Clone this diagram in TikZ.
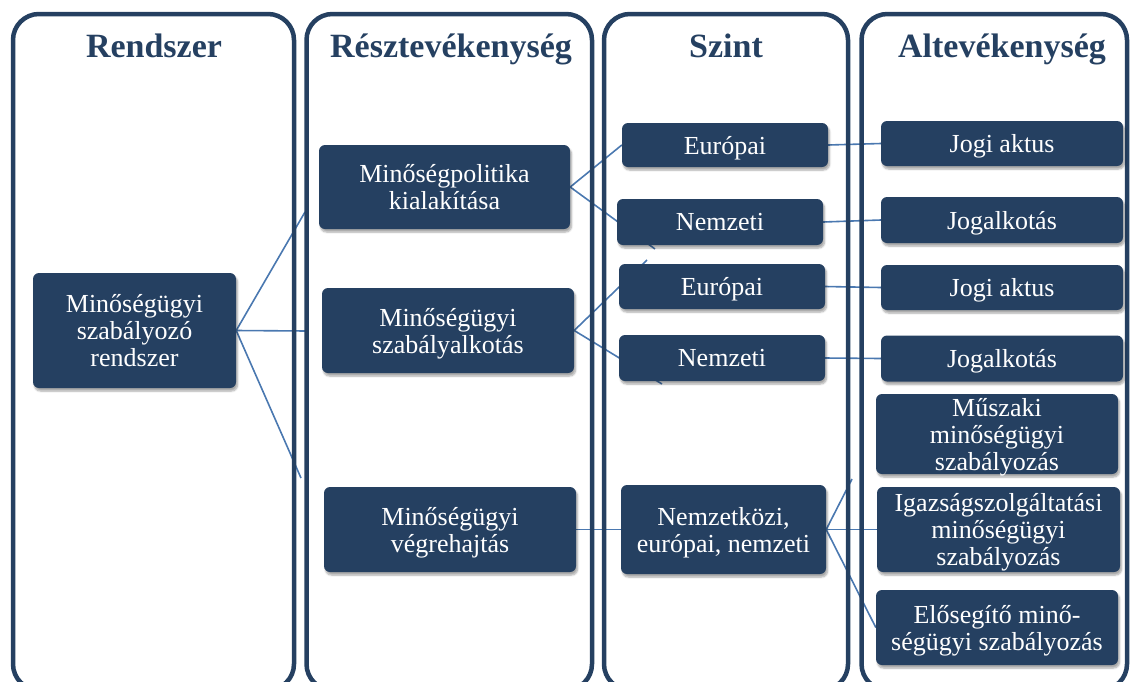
\documentclass[tikz,border=0pt]{standalone}
\usepackage{fontspec}
\setmainfont{Liberation Serif}
\usetikzlibrary{shadows,shadows.blur}
\definecolor{navy}{RGB}{37,64,97}
\definecolor{linkblue}{RGB}{74,120,176}
\pgfdeclarelayer{bg}
\pgfsetlayers{bg,main}
\begin{document}
\begin{tikzpicture}[x=1pt,y=-1pt,
  colframe/.style={draw=navy,line width=4.5pt,rounded corners=26pt},
  head/.style={text=navy,font=\fontsize{34}{36}\selectfont\bfseries,anchor=base},
  box/.style={fill=navy,text=white,rounded corners=6pt,inner sep=0pt,align=center,
    text depth=0pt,font=\fontsize{26}{27}\selectfont,
    blur shadow={shadow xshift=1.5pt,shadow yshift=-3pt,shadow blur steps=6,shadow opacity=35}},
  link/.style={draw=linkblue,line width=1.6pt}]
\useasboundingbox (0,0) rectangle (1131,681);

% column frames, running on past the lower edge
\begin{scope}
\clip (0,0) rectangle (1131,681);
\draw[colframe] (13,14) -- (13,690) -- (294,690) -- (294,14) -- cycle;
\draw[colframe] (306.5,14) -- (306.5,690) -- (592,690) -- (592,14) -- cycle;
\draw[colframe] (604,14) -- (604,690) -- (848,690) -- (848,14) -- cycle;
\draw[colframe] (861.5,14) -- (861.5,690) -- (1127,690) -- (1127,14) -- cycle;
\end{scope}

% column headings
\node[head] (h1) at (154,57) {Rendszer};
\node[head] (h2) at (451,57) {Résztevékenység};
\node[head] (h3) at (726,57) {Szint};
\node[head] (h4) at (1002,57) {Altevékenység};

% system
\node[box,minimum width=203pt,minimum height=115pt] (A) at (134.5,330.5) {Minőségügyi\\szabályozó\\rendszer};

% sub-activities
\node[box,minimum width=251pt,minimum height=84pt] (B1) at (444.5,187) {Minőségpolitika\\kialakítása};
\node[box,minimum width=252pt,minimum height=85pt] (B2) at (448,330.5) {Minőségügyi\\szabályalkotás};
\node[box,minimum width=252pt,minimum height=85pt] (B3) at (450,529.5) {Minőségügyi\\végrehajtás};

% levels
\node[box,minimum width=206pt,minimum height=44pt] (C1) at (725,145) {Európai};
\node[box,minimum width=206pt,minimum height=46pt] (C2) at (720,222) {Nemzeti};
\node[box,minimum width=206pt,minimum height=45pt] (C3) at (722,286.5) {Európai};
\node[box,minimum width=206pt,minimum height=46pt] (C4) at (722,358) {Nemzeti};
\node[box,minimum width=205pt,minimum height=89pt] (C5) at (723.5,529.5) {Nemzetközi,\\európai, nemzeti};

% sub-sub-activities
\node[box,minimum width=242pt,minimum height=45pt] (D1) at (1002,143.5) {Jogi aktus};
\node[box,minimum width=242pt,minimum height=46pt] (D2) at (1002,220) {Jogalkotás};
\node[box,minimum width=242pt,minimum height=45pt] (D3) at (1002,287.5) {Jogi aktus};
\node[box,minimum width=242pt,minimum height=46pt] (D4) at (1002,358.5) {Jogalkotás};
\node[box,minimum width=242pt,minimum height=80pt] (D5) at (997,434) {Műszaki\\minőségügyi\\szabályozás};
\node[box,minimum width=243pt,minimum height=85pt] (D6) at (998.5,529.5) {Igazságszolgáltatási\\minőségügyi\\szabályozás};
\node[box,minimum width=242pt,minimum height=75pt] (D7) at (997,627.5) {Elősegítő minő-\\ségügyi szabályozás};

% loose connector ends
\coordinate (a1) at (305,212);
\coordinate (a2) at (308,331);
\coordinate (a3) at (301,478);
\coordinate (t1) at (655,249);
\coordinate (t2) at (647,260);
\coordinate (t3) at (662,384);
\coordinate (u1) at (852,479);

\begin{pgfonlayer}{bg}
\draw[link] (A.east) -- (a1);
\draw[link] (A.east) -- (a2);
\draw[link] (A.east) -- (a3);
\draw[link] (B1.east) -- (C1.west);
\draw[link] (B1.east) -- (t1);
\draw[link] (B2.east) -- (t2);
\draw[link] (B2.east) -- (t3);
\draw[link] (B3.east) -- (C5.west);
\draw[link] (C1.east) -- (D1.west);
\draw[link] (C2.east) -- (D2.west);
\draw[link] (C3.east) -- (D3.west);
\draw[link] (C4.east) -- (D4.west);
\draw[link] (C5.east) -- (u1);
\draw[link] (C5.east) -- (D6.west);
\draw[link] (C5.east) -- (D7.west);
\end{pgfonlayer}
\end{tikzpicture}
\end{document}
